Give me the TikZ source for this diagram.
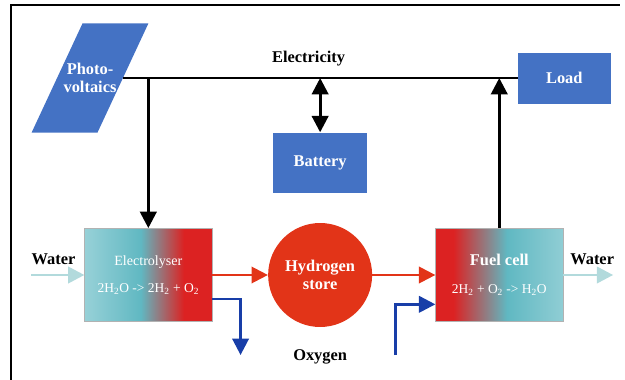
\documentclass[tikz,border=0pt]{standalone}
\usepackage{fontspec}
\setmainfont{Liberation Serif}
\usetikzlibrary{positioning,calc,arrows.meta,shapes.geometric}
\definecolor{panelblue}{RGB}{68,114,196}
\definecolor{storered}{RGB}{226,52,24}
\definecolor{cellteal}{RGB}{96,184,194}
\definecolor{cellred}{RGB}{220,34,34}
\definecolor{watercol}{RGB}{178,218,220}
\definecolor{oxyblue}{RGB}{24,62,168}
\pgfdeclarehorizontalshading{elecshade}{100bp}{color(0bp)=(cellteal!65!white); color(25bp)=(cellteal!65!white); color(47bp)=(cellteal); color(64bp)=(cellred); color(100bp)=(cellred)}
\pgfdeclarehorizontalshading{fcshade}{100bp}{color(0bp)=(cellred); color(32bp)=(cellred); color(53bp)=(cellteal); color(75bp)=(cellteal!70!white); color(100bp)=(cellteal!70!white)}
\newcommand{\boxfont}{\fontsize{14}{15}\selectfont\bfseries}
\tikzset{
    source/.style={trapezium, trapezium left angle=65, trapezium right angle=115, text width=1.65cm, inner xsep=-0.6cm, inner ysep=1.2cm, fill=panelblue, text=white, align=center, font=\boxfont},
    block/.style={rectangle, fill=panelblue, text=white, font=\boxfont, minimum width=2.8cm},
    unit/.style={rectangle, draw=gray!60, minimum width=3.82cm, minimum height=2.8cm, text=white, align=center},
    store/.style={circle, fill=storered, minimum size=3.12cm, text=white, align=center, font=\boxfont},
    tag/.style={font=\boxfont, text=black},
    bus/.style={line width=2.5pt, black},
    h2flow/.style={->, line width=2pt, storered},
    o2flow/.style={->, line width=2.2pt, oxyblue},
    waterflow/.style={->, line width=2.5pt, watercol},
    >={Triangle[length=14pt, width=14pt]}
}
\begin{document}
\begin{tikzpicture}[node distance=1.5cm]
    \useasboundingbox (0,0) rectangle (18.75,-11.4);
    % Frame
    \draw[line width=1pt] (0.33,-11.4) -- (0.33,-0.15) -- (18.6,-0.15);

    % Source and load
    \node (pv) [source] at (2.7,-2.34) {Photo-\\voltaics};
    \coordinate (pvout) at ($(pv.top right corner)!0.5!(pv.bottom right corner)$);
    \node (load) [block, minimum width=2.79cm, minimum height=1.53cm] at (16.93,-2.34) {Load};

    % Process chain
    \node (elec) [unit, shading=elecshade] at (4.45,-8.25) {{\fontsize{12}{14}\selectfont Electrolyser}\\[11pt]{\fontsize{11.5}{13}\selectfont 2H\textsubscript{2}O -> 2H\textsubscript{2} + O\textsubscript{2}}};
    \node (hstore) [store, right=1.67cm of elec] {Hydrogen\\store};
    \node (fcell) [unit, shading=fcshade, right=1.89cm of hstore] {{\boxfont Fuel cell}\\[12pt]{\fontsize{11.5}{13}\selectfont 2H\textsubscript{2} + O\textsubscript{2} -> H\textsubscript{2}O}};
    \node (battery) [block, minimum height=1.8cm, above=0.9cm of hstore] {Battery};

    % Electricity bus
    \draw[bus] (pvout) -- node (elabel) [tag, above=0.2cm, pos=0.47] {Electricity} (load.west);
    \draw[bus, ->] (elec.north |- pvout) -- (elec.north);
    \draw[bus, <->] (battery.north |- pvout) -- (battery.north);
    \draw[bus, ->] (fcell.north) -- (fcell.north |- load.west);

    % Hydrogen
    \draw[h2flow] (elec) -- (hstore);
    \draw[h2flow] (hstore) -- (fcell);

    % Water in and out
    \coordinate (win) at ([xshift=-1.6cm]elec.west);
    \draw[waterflow] (win) -- node (wlabelin) [tag, above=0.15cm, pos=0.42] {Water} (elec.west);
    \coordinate (wout) at ([xshift=1.5cm]fcell.east);
    \draw[waterflow] (fcell.east) -- node (wlabelout) [tag, above=0.15cm, pos=0.58] {Water} (wout);

    % Oxygen
    \coordinate (o2out) at ([xshift=0.85cm, yshift=-2.4cm]elec.east);
    \draw[o2flow] ([yshift=-0.72cm]elec.east) -| (o2out);
    \coordinate (o2in) at ([xshift=-1.2cm, yshift=-2.4cm]fcell.west);
    \draw[o2flow] (o2in) |- ([yshift=-0.88cm]fcell.west);
    \node (o2label) [tag, below=0.55cm of hstore] {Oxygen};
\end{tikzpicture}
\end{document}
